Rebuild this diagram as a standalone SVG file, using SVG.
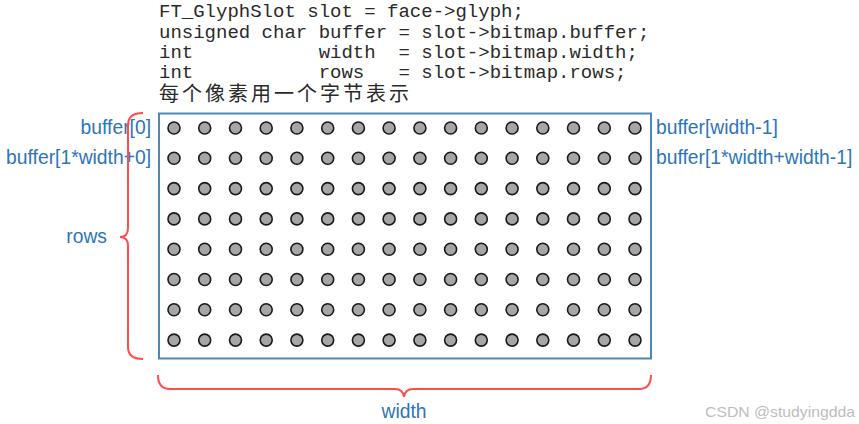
<svg xmlns="http://www.w3.org/2000/svg" xmlns:xlink="http://www.w3.org/1999/xlink" width="859" height="424" viewBox="0 0 859 424">
<style>
.code{font-family:"Liberation Mono","DejaVu Sans Mono",monospace;font-size:19px;fill:#2a2a2a;white-space:pre}
.cjk{font-family:"Noto Sans CJK SC",sans-serif;font-size:20px;fill:#2a2a2a}
.lbl{font-family:"Liberation Sans",Arial,sans-serif;font-size:19.3px;fill:#2e75b6}
.brace{fill:none;stroke:#ff4d4d;stroke-width:2}
.wm{font-family:"Liberation Sans",Arial,sans-serif;font-size:15px;fill:#bdbdbd}
</style>
<defs>
<circle id="px" r="6" fill="#a6a6a6" stroke="#1a1a1a" stroke-width="1.6"/>
</defs>
<rect width="859" height="424" fill="#ffffff"/>
<g id="code">
<text class="code" x="159" y="17" xml:space="preserve">FT_GlyphSlot slot = face-&gt;glyph;</text>
<text class="code" x="159" y="37.5" xml:space="preserve">unsigned char buffer = slot-&gt;bitmap.buffer;</text>
<text class="code" x="159" y="57.5" xml:space="preserve">int           width  = slot-&gt;bitmap.width;</text>
<text class="code" x="159" y="77.5" xml:space="preserve">int           rows   = slot-&gt;bitmap.rows;</text>
<text class="cjk" x="159" y="101" textLength="250" lengthAdjust="spacing">每个像素用一个字节表示</text>
</g>
<g id="bitmap">
<rect x="159" y="113.5" width="492" height="245" fill="none" stroke="#4f87b7" stroke-width="2"/>
<g id="pixels">
<g id="row0" transform="translate(0,128)">
<use xlink:href="#px" x="174"/><use xlink:href="#px" x="204.7"/><use xlink:href="#px" x="235.5"/><use xlink:href="#px" x="266.2"/><use xlink:href="#px" x="296.9"/><use xlink:href="#px" x="327.7"/><use xlink:href="#px" x="358.4"/><use xlink:href="#px" x="389.1"/><use xlink:href="#px" x="419.9"/><use xlink:href="#px" x="450.6"/><use xlink:href="#px" x="481.3"/><use xlink:href="#px" x="512.1"/><use xlink:href="#px" x="542.8"/><use xlink:href="#px" x="573.5"/><use xlink:href="#px" x="604.3"/><use xlink:href="#px" x="635"/>
</g>
<use xlink:href="#row0" y="30.3"/>
<use xlink:href="#row0" y="60.6"/>
<use xlink:href="#row0" y="90.9"/>
<use xlink:href="#row0" y="121.2"/>
<use xlink:href="#row0" y="151.5"/>
<use xlink:href="#row0" y="181.8"/>
<use xlink:href="#row0" y="212.1"/>
</g>
</g>
<g id="labels">
<text class="lbl" x="151" y="134" text-anchor="end">buffer[0]</text>
<text class="lbl" x="151" y="164" text-anchor="end">buffer[1*width+0]</text>
<text class="lbl" x="656" y="134">buffer[width-1]</text>
<text class="lbl" x="656" y="164">buffer[1*width+width-1]</text>
<text class="lbl" x="107" y="243" text-anchor="end">rows</text>
<text class="lbl" x="404" y="418" text-anchor="middle">width</text>
</g>
<g id="connectors">
<path class="brace" d="M143,113 Q128,113 128,125 L128,228 Q128,237 120,237 Q128,237 128,246 L128,347 Q128,359 143,359"/>
<path class="brace" d="M158,375 Q158,389 170,389 L395,389 Q403,389 404,397 Q405,389 413,389 L639,389 Q651,389 651,375"/>
</g>
<text class="wm" x="705" y="417" textLength="150" lengthAdjust="spacingAndGlyphs">CSDN @studyingdda</text>
</svg>
